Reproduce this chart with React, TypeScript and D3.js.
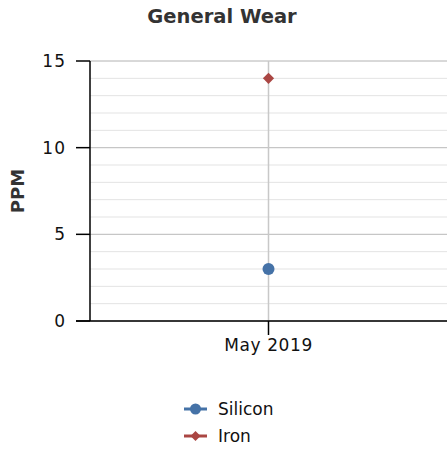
import React from "react";
import * as d3 from "d3";

const categories = ["May 2019"];
const siliconValues = [3];
const ironValues = [14];
const yTicks = [0, 5, 10, 15];
const seriesNames = ["Silicon", "Iron"];
const seriesColors = ["#4572A7", "#AA4643"];

const W = 447;
const H = 449;
const left = 90;
const right = 447;
const top = 61;
const bottom = 321;
const font = "DejaVu Sans, Verdana, sans-serif";

export default function App() {
  const x = d3.scalePoint<string>().domain(categories).range([left, right]).padding(0.5);
  const y = d3.scaleLinear().domain([0, 15]).range([bottom, top]);
  const minor = d3.range(0, 16, 1);
  const diamond = d3.symbol().type(d3.symbolDiamond2).size(80)();
  return (
    <svg width={W} height={H} style={{ position: "absolute", left: 0, top: 0 }}>
      <rect width={W} height={H} fill="#fff" />
      <text x={222} y={23} textAnchor="middle" fontFamily={font} fontWeight="bold" fontSize={19.5} fill="#333">
        General Wear
      </text>
      {minor.map((v) => (
        <line key={"m" + v} x1={left} x2={right} y1={y(v)} y2={y(v)} stroke="#e3e3e3" strokeWidth={1} />
      ))}
      {yTicks.map((v) => (
        <line key={"g" + v} x1={left} x2={right} y1={y(v)} y2={y(v)} stroke="#c0c0c0" strokeWidth={1} />
      ))}
      {categories.map((c) => (
        <line key={"v" + c} x1={x(c)} x2={x(c)} y1={top} y2={bottom} stroke="#c8c8c8" strokeWidth={1.5} />
      ))}
      <line x1={left} x2={left} y1={top} y2={bottom} stroke="#000" strokeWidth={1.5} />
      <line x1={left - 14} x2={right} y1={bottom} y2={bottom} stroke="#000" strokeWidth={1.5} />
      {yTicks.map((v) => (
        <g key={"t" + v}>
          <line x1={left - 14} x2={left} y1={y(v)} y2={y(v)} stroke="#000" strokeWidth={1.5} />
          <text x={left - 24} y={y(v) + 6} textAnchor="end" fontFamily={font} fontSize={17} letterSpacing={1} fill="#111">
            {v}
          </text>
        </g>
      ))}
      {categories.map((c) => (
        <g key={"x" + c}>
          <line x1={x(c)} x2={x(c)} y1={bottom} y2={bottom + 14} stroke="#000" strokeWidth={1.5} />
          <text x={x(c)} y={bottom + 30} textAnchor="middle" fontFamily={font} fontSize={17} letterSpacing={0.6} fill="#111">
            {c}
          </text>
        </g>
      ))}
      <text
        transform={`translate(24,${(top + bottom) / 2}) rotate(-90)`}
        textAnchor="middle"
        fontFamily={font}
        fontWeight="bold"
        fontSize={18}
        fill="#333"
      >
        PPM
      </text>
      {siliconValues.map((v, i) => (
        <circle key={"s" + i} cx={x(categories[i])} cy={y(v)} r={6} fill={seriesColors[0]} />
      ))}
      {ironValues.map((v, i) => (
        <path key={"i" + i} d={diamond!} transform={`translate(${x(categories[i])},${y(v)})`} fill={seriesColors[1]} />
      ))}
      {seriesNames.map((n, i) => {
        const ly = 409 + i * 27;
        return (
          <g key={n}>
            <line x1={184} x2={207} y1={ly} y2={ly} stroke={seriesColors[i]} strokeWidth={3} />
            {i === 0 ? (
              <circle cx={195.5} cy={ly} r={5.5} fill={seriesColors[i]} />
            ) : (
              <path d={d3.symbol().type(d3.symbolDiamond2).size(64)()!} transform={`translate(195.5,${ly})`} fill={seriesColors[i]} />
            )}
            <text x={218} y={ly + 6} fontFamily={font} fontSize={17} fill="#111">
              {n}
            </text>
          </g>
        );
      })}
    </svg>
  );
}
